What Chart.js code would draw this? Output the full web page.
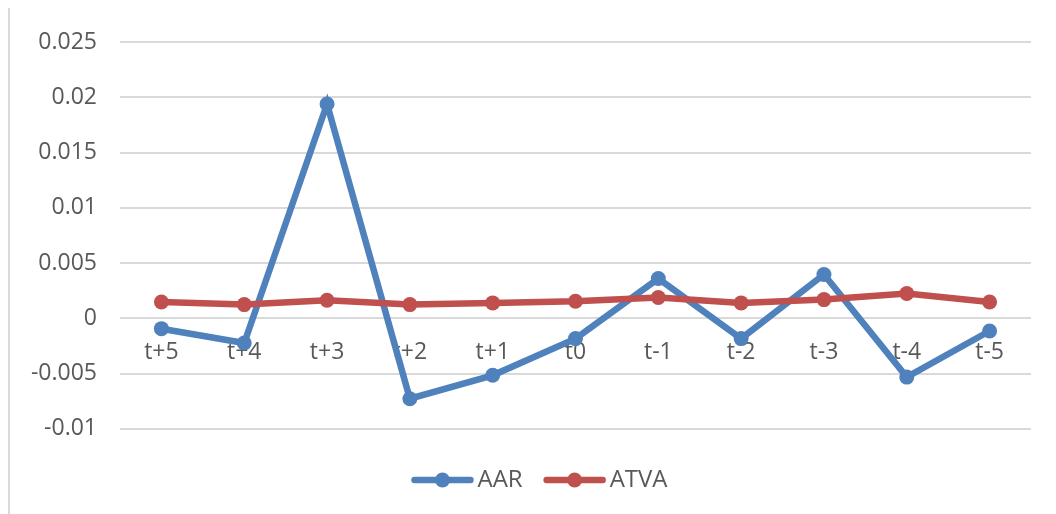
<!DOCTYPE html>
<html>
<head>
<meta charset="utf-8">
<script src="https://cdn.jsdelivr.net/npm/chart.js@4.4.1/dist/chart.umd.min.js"></script>
<style>
  html, body { margin: 0; padding: 0; background: #ffffff; }
  #wrap { position: relative; width: 1056px; height: 514px; overflow: hidden; }
  #frame { position: absolute; left: 8px; top: 8px; width: 0; height: 520px; border-left: 2px solid #d9d9d9; }
  canvas { position: absolute; left: 0; top: 0; }
</style>
</head>
<body>
<div id="wrap">
  <div id="frame"></div>
  <canvas id="c" width="1056" height="514"></canvas>
</div>
<script>
// Event window labels
const categories = ['t+5', 't+4', 't+3', 't+2', 't+1', 't0', 't-1', 't-2', 't-3', 't-4', 't-5'];

// Average abnormal return
const aarValues = [-0.00094, -0.00224, 0.01939, -0.00728, -0.00516, -0.00184, 0.0036, -0.00184, 0.00396, -0.00532, -0.00115];

// Average trading volume activity
const atvaValues = [0.00148, 0.00124, 0.00163, 0.00124, 0.00139, 0.00154, 0.00188, 0.00139, 0.00169, 0.00224, 0.00148];

// Value axis ticks
const yTicks = [-0.01, -0.005, 0, 0.005, 0.01, 0.015, 0.02, 0.025];

const BLUE = '#4f81bd';
const RED = '#c0504d';
const TEXT = '#595959';
const FONT = 'Open Sans';
const LEGEND_LINE = 62;

// Center the legend on the full page width rather than the padded layout box
const legendShift = {
  id: 'legendShift',
  afterLayout(chart) {
    const lg = chart.legend;
    if (!lg) return;
    lg.left += 24;
    lg.right += 24;
  }
};

// Legend entries drawn as a line with a marker in the middle
const legendMarkers = {
  id: 'legendMarkers',
  afterDraw(chart) {
    const legend = chart.legend;
    if (!legend || !legend.legendHitBoxes) return;
    const ctx = chart.ctx;
    legend.legendHitBoxes.forEach((hb, i) => {
      const ds = chart.data.datasets[i];
      const y = hb.top + hb.height / 2;
      const x0 = hb.left;
      const x1 = hb.left + LEGEND_LINE;
      ctx.save();
      ctx.strokeStyle = ds.borderColor;
      ctx.lineWidth = 6.5;
      ctx.lineCap = 'round';
      ctx.beginPath();
      ctx.moveTo(x0 + 3, y);
      ctx.lineTo(x1 - 3, y);
      ctx.stroke();
      ctx.fillStyle = ds.borderColor;
      ctx.beginPath();
      ctx.arc((x0 + x1) / 2, y, 7.5, 0, Math.PI * 2);
      ctx.fill();
      ctx.restore();
    });
  }
};

new Chart(document.getElementById('c'), {
  type: 'line',
  data: {
    labels: categories,
    datasets: [
      {
        label: 'AAR',
        data: aarValues,
        borderColor: BLUE,
        backgroundColor: BLUE,
        borderWidth: 6.5,
        pointRadius: 7.5,
        pointHoverRadius: 7.5,
        pointBackgroundColor: BLUE,
        pointBorderWidth: 0,
        tension: 0,
        order: 2
      },
      {
        label: 'ATVA',
        data: atvaValues,
        borderColor: RED,
        backgroundColor: RED,
        borderWidth: 6.5,
        pointRadius: 7.5,
        pointHoverRadius: 7.5,
        pointBackgroundColor: RED,
        pointBorderWidth: 0,
        tension: 0,
        order: 1
      }
    ]
  },
  options: {
    responsive: false,
    animation: false,
    devicePixelRatio: 1,
    layout: { padding: { top: 42, right: 25, bottom: 12, left: 0 } },
    plugins: {
      tooltip: { enabled: false },
      legend: {
        position: 'bottom',
        title: { display: true, text: '', font: { size: 1 }, padding: { top: 0, bottom: 17 } },
        labels: {
          boxWidth: 54,
          boxHeight: 6,
          padding: 21,
          color: TEXT,
          font: { family: FONT, size: 24 },
          generateLabels(chart) {
            return chart.data.datasets.map((ds, i) => ({
              text: ds.label,
              fillStyle: 'rgba(0,0,0,0)',
              strokeStyle: 'rgba(0,0,0,0)',
              lineWidth: 0,
              fontColor: TEXT,
              datasetIndex: i,
              hidden: false
            }));
          }
        }
      }
    },
    scales: {
      x: {
        type: 'category',
        position: { y: 0 },
        offset: true,
        grid: { display: false, drawTicks: false },
        border: { display: false },
        ticks: {
          color: TEXT,
          font: { family: FONT, size: 23 },
          padding: 20,
          maxRotation: 0,
          autoSkip: false
        }
      },
      y: {
        min: yTicks[0],
        max: yTicks[yTicks.length - 1],
        afterFit(scale) { scale.width = 120; },
        afterBuildTicks(scale) { scale.ticks = yTicks.map(v => ({ value: v })); },
        grid: { color: '#d9d9d9', lineWidth: 2, drawTicks: false },
        border: { display: false },
        ticks: {
          color: TEXT,
          font: { family: FONT, size: 23 },
          padding: 23,
          callback: v => String(+v.toFixed(3))
        }
      }
    }
  },
  plugins: [legendShift, legendMarkers]
});
</script>
</body>
</html>
